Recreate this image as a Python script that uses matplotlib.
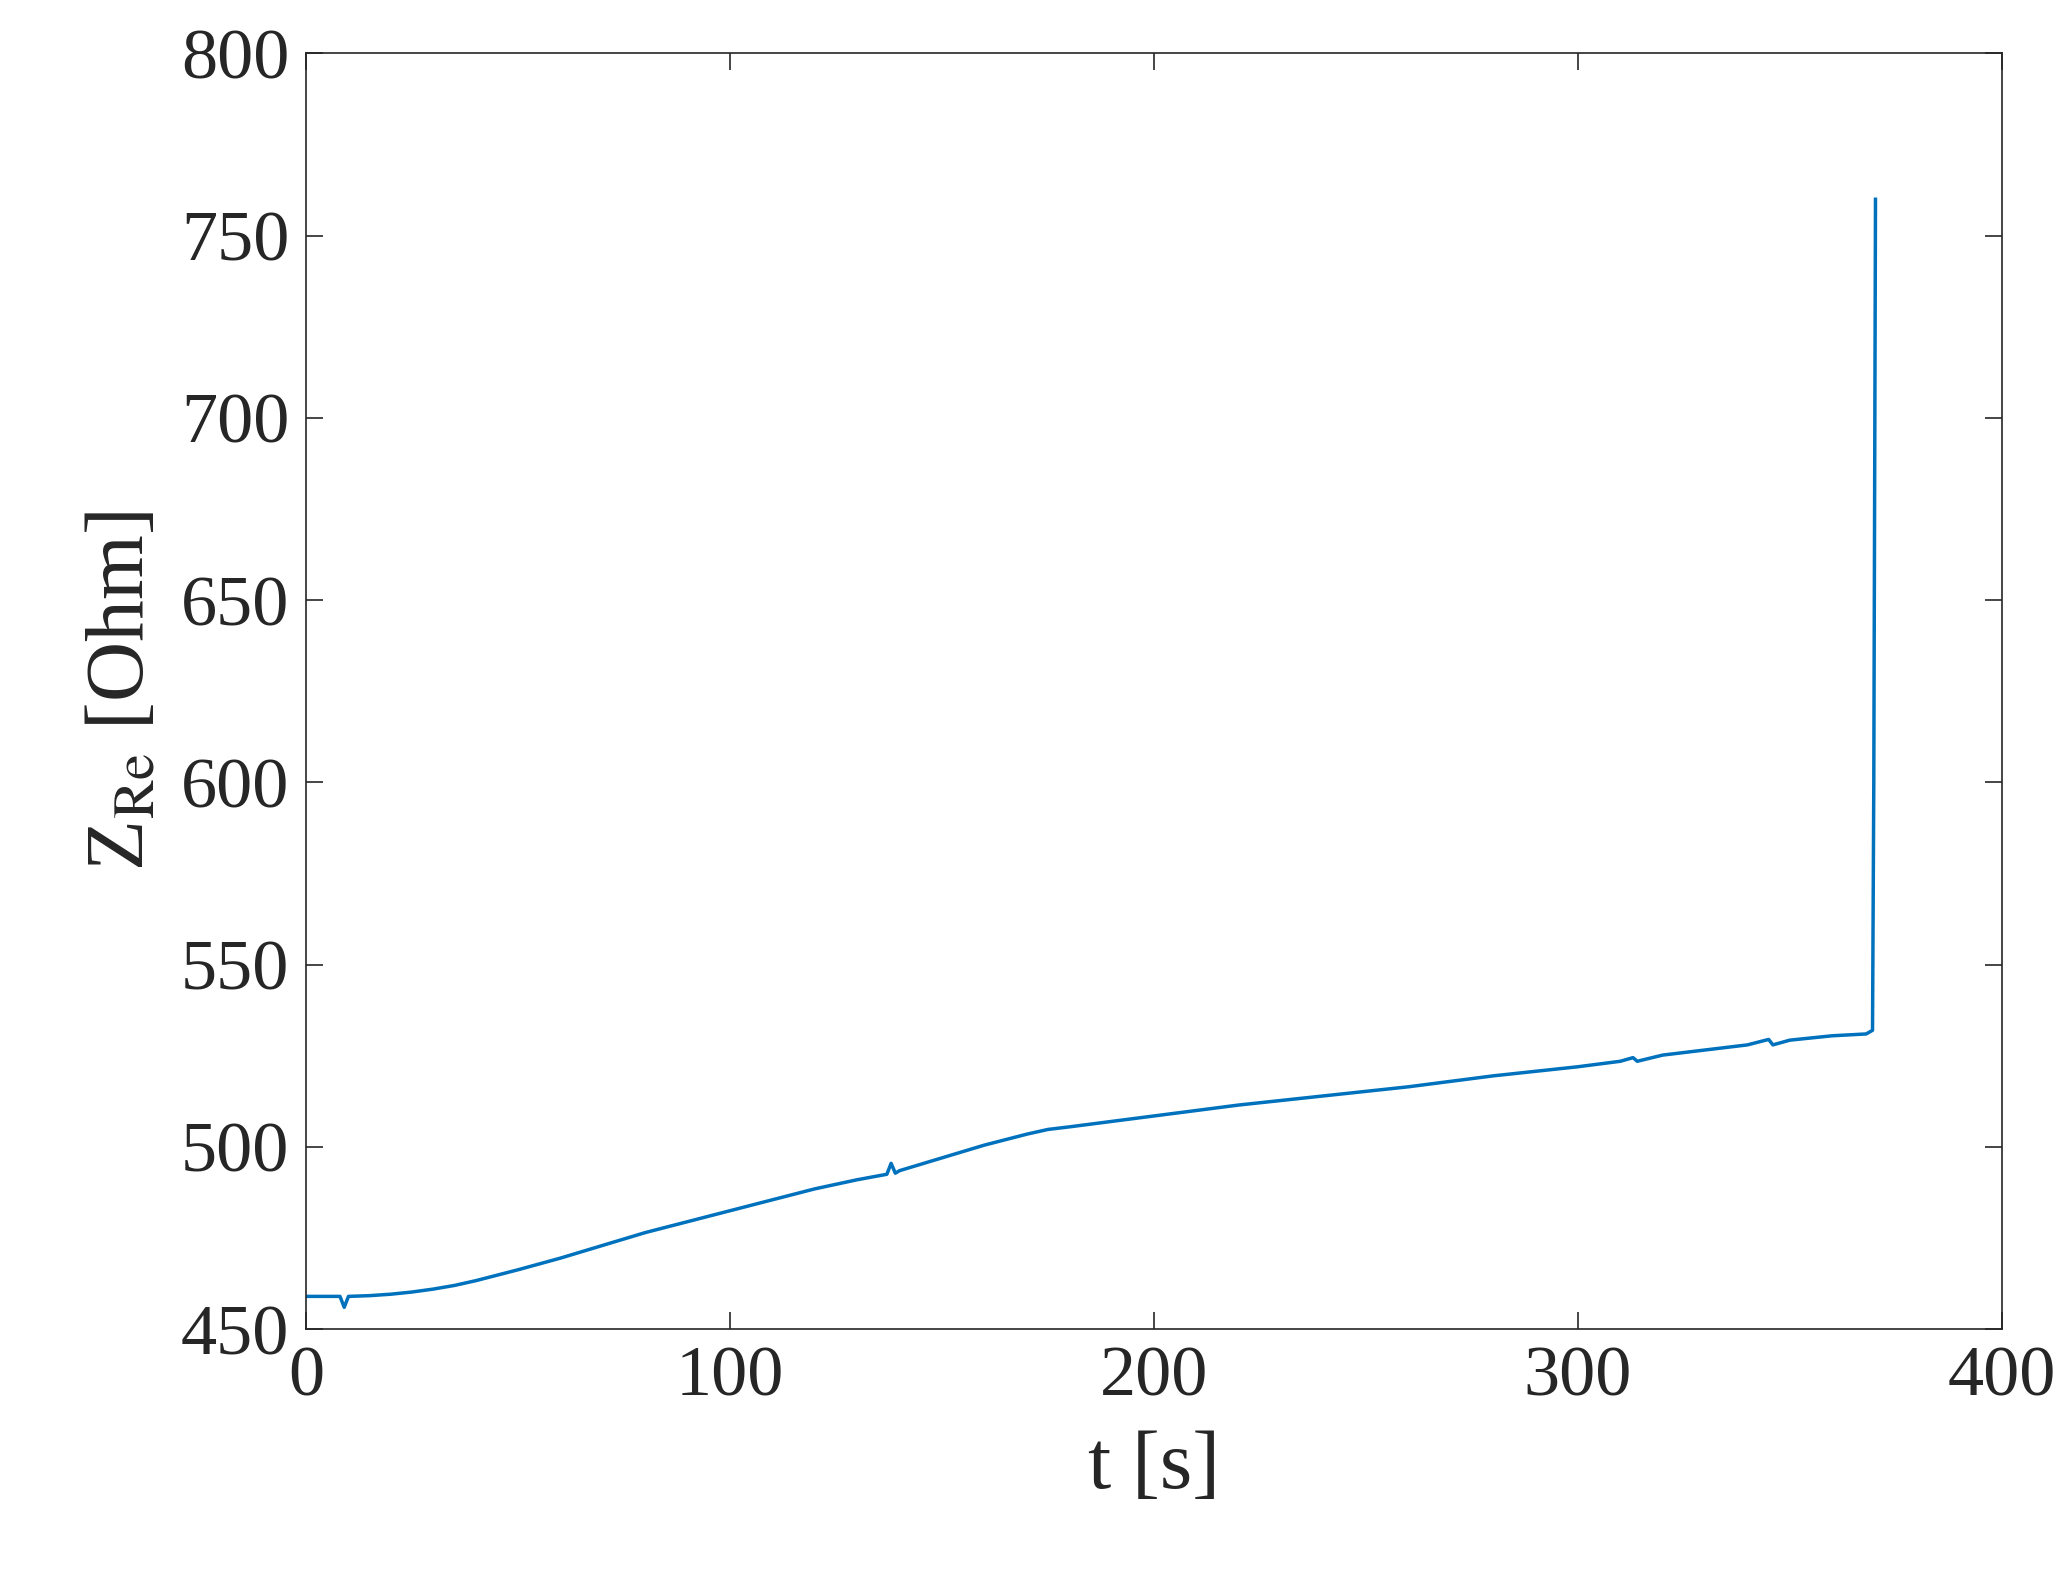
import matplotlib
matplotlib.use("Agg")
import matplotlib.pyplot as plt

# Readings
t_s = [0, 5, 8, 9, 10, 15, 20, 25, 30, 35, 40, 45, 50, 60, 70, 80, 90, 100, 110,
       120, 130, 137, 138, 139, 140, 150, 160, 170, 175, 180, 190, 200, 220,
       240, 260, 280, 300, 310, 313, 314, 320, 340, 345, 346, 350, 360, 368,
       369.5, 369.8, 370.2]
z_re = [459, 459, 459, 456, 459, 459.2, 459.6, 460.2, 461, 462, 463.3, 464.8,
        466.3, 469.5, 473, 476.5, 479.5, 482.5, 485.5, 488.5, 491, 492.5, 495.5,
        492.8, 493.5, 497, 500.5, 503.5, 504.8, 505.5, 507, 508.5, 511.5, 514,
        516.5, 519.5, 522, 523.5, 524.5, 523.5, 525.2, 528, 529.5, 528, 529.3,
        530.5, 531, 532, 600, 760]

plt.rcParams['font.family'] = ['Liberation Serif', 'DejaVu Serif']
plt.rcParams['mathtext.fontset'] = 'stix'

fig = plt.figure(figsize=(20.68, 15.73), dpi=100)
ax = fig.add_axes([0.148, 0.155, 0.82, 0.811])
ax.plot(t_s, z_re, color='#0072BD', linewidth=2.5)

ax.set_xlim(0, 400)
ax.set_ylim(450, 800)
ax.set_xticks([0, 100, 200, 300, 400])
ax.set_yticks(range(450, 801, 50))
ax.tick_params(direction='in', top=True, right=True, length=12, width=1.2,
               labelsize=52, colors='#262626', pad=12)
for sp in ax.spines.values():
    sp.set_linewidth(1.2)
    sp.set_color('#262626')

ax.set_xlabel('t [s]', fontsize=60, color='#262626', labelpad=14)
ax.set_ylabel(r'Z$_{\mathrm{Re}}$ [Ohm]', fontsize=60, color='#262626', labelpad=14)

fig.savefig('out.png', dpi=100)
